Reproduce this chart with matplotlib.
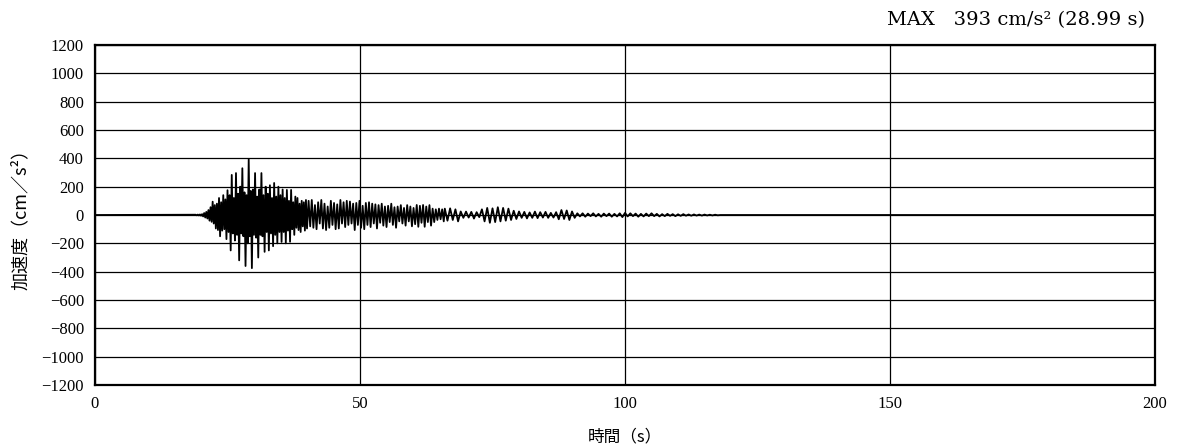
import numpy as np
import matplotlib
matplotlib.use("Agg")
import matplotlib.pyplot as plt

t_start = [19.0, 40.0, 66.0]
dt = [0.2, 0.3, 0.5]

acc_1 = [2, -2, 3, -3, 4, -5, 6, -10, 14, -18,
         22, -25, 35, -40, 55, -48, 94, -60, 70, -95,
         80, -106, 120, -150, 90, -110, 140, -100, 110, -170,
         175, -120, 140, -250, 283, -130, 120, -180, 296, -140,
         150, -320, 200, -130, 330, -150, 160, -360, 140, -200,
         393, -150, 170, -375, 180, -140, 296, -160, 130, -300,
         180, -140, 296, -150, 140, -260, 200, -120, 150, -250,
         210, -130, 120, -220, 226, -140, 130, -200, 200, -120,
         140, -190, 180, -120, 120, -200, 177, -110, 100, -189,
         177, -100, 90, -140, 130, -90, 120, -106, 80, -120,
         100, -80, 90, -110, 106]

acc_2 = [-95, 100, -80, 106, -90, 70, -100, 90, -60, 106,
         -95, 80, -106, 60, -90, 100, -70, 85, -100, 75,
         -95, 106, -60, 90, -85, 100, -70, 95, -60, 80,
         -106, 85, -70, 100, -90, 65, -100, 85, -70, 90,
         -85, 80, -60, 75, -95, 70, -55, 80, -75, 60,
         -85, 65, -50, 80, -70, 55, -90, 60, -45, 70,
         -60, 50, -75, 70, -45, 60, -80, 50, -65, 71,
         -83, 65, -55, 71, -83, 60, -50, 70, -75, 45,
         -50, 40, -35, 45, -30, 40, -45]

acc_3 = [45, -40, 47, -35, 40, -45,
         25, -20, 24, -18, 22, -25, 20, -15,
         40, -45, 50, -55, 47, -50, 55, -45, 50, -40, 45, -35, 30, -28,
         25, -20, 22, -24, 18, -20, 24, -22, 20, -18, 22, -20, 15, -18, 20,
         -30, 35, -28, 32, -35, 25, -20,
         12, -10, 12, -12, 10, -8, 12, -10, 8, -12, 10, -8, 10, -12, 8, -10, 12, -15,
         15, -10, 12, -8, 10, -12, 8, -10, 10, -8, 12, -8, 8, -10, 6, -8, 8, -6,
         6, -8, 5, -6, 6, -5, 4, -5, 4, -4, 3, -4, 3, -3, 2, -3, 2, -2]

t_end = 200.0
max_text = "MAX   393 cm/s² (28.99 s)"

t = [0.0]
a = [0.0]
for t0, h, vals in zip(t_start, dt, [acc_1, acc_2, acc_3]):
    t += list(t0 + h * np.arange(len(vals)))
    a += vals
t += [t[-1] + 0.5, t_end]
a += [0.0, 0.0]

fig = plt.figure(figsize=(11.86, 4.47), dpi=100)
ax = fig.add_axes([0.0801, 0.1387, 0.8938, 0.7606])

ax.plot(t, a, color='black', lw=1.3)

ax.set_xlim(0, 200)
ax.set_ylim(-1200, 1200)
ax.set_xticks([0, 50, 100, 150, 200])
ax.set_yticks(np.arange(-1200, 1201, 200))
ax.grid(True, color='black', lw=0.9)
ax.set_axisbelow(True)
ax.tick_params(length=0, pad=8)
for lab in ax.get_xticklabels() + ax.get_yticklabels():
    lab.set_family('Liberation Serif')
    lab.set_fontsize(12)
for s in ax.spines.values():
    s.set_linewidth(1.6)

ax.set_xlabel('時間（s）', family=['Noto Sans CJK JP', 'DejaVu Sans'], fontsize=12, labelpad=12)
ax.set_ylabel('加速度（cm／s²）', family=['Noto Sans CJK JP', 'DejaVu Sans'], fontsize=13, labelpad=8)

fig.text(0.9655, 0.955, max_text, ha='right', va='center',
         family=['DejaVu Serif'], fontsize=14)

plt.savefig('out.png')
